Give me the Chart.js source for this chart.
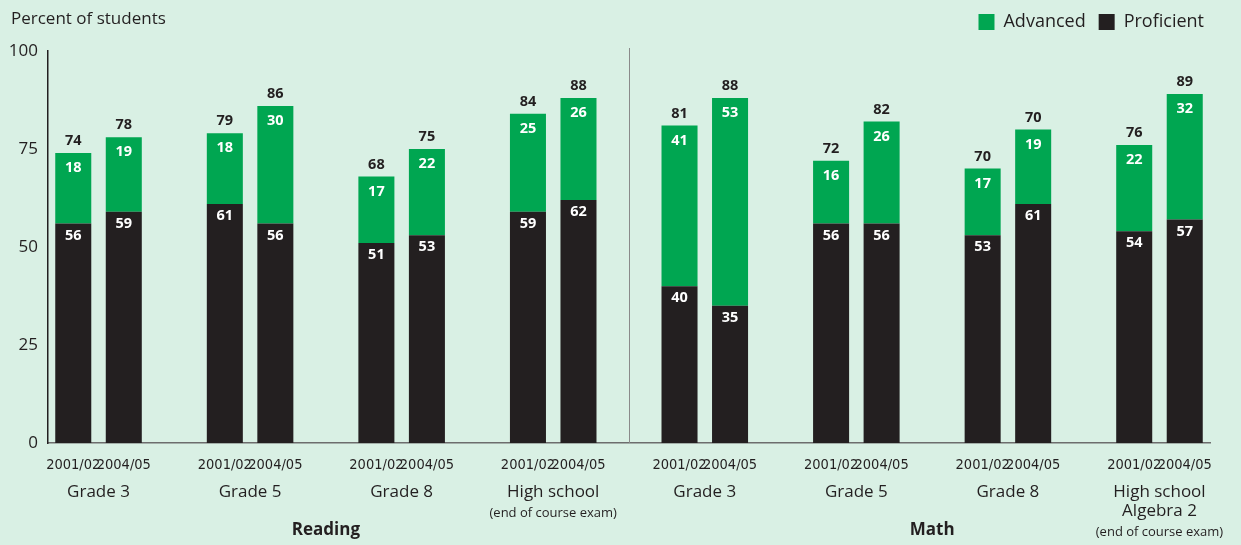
<!DOCTYPE html>
<html>
<head>
<meta charset="utf-8">
<script src="https://cdn.jsdelivr.net/npm/chart.js@4"></script>
<style>
  html, body { margin: 0; padding: 0; background: #d9f0e4; }
  #wrap { width: 1241px; height: 545px; }
</style>
</head>
<body>
<div id="wrap"><canvas id="myChart" width="1241" height="545"></canvas></div>
<script>
// values
var years = ['2001/02', '2004/05'];
var groupLines = [['Grade 3'], ['Grade 5'], ['Grade 8'], ['High school'],
                  ['Grade 3'], ['Grade 5'], ['Grade 8'], ['High school', 'Algebra 2']];
var groupNotes = ['', '', '', '(end of course exam)', '', '', '', '(end of course exam)'];
var subjects = ['Reading', 'Math'];
var proficient = [56, 59, 61, 56, 51, 53, 59, 62, 40, 35, 56, 56, 53, 61, 54, 57];
var advanced   = [18, 19, 18, 30, 17, 22, 25, 26, 41, 53, 16, 26, 17, 19, 22, 32];
var totals     = [74, 78, 79, 86, 68, 75, 84, 88, 81, 88, 72, 82, 70, 70, 76, 89];
var yTicks = [0, 25, 50, 75, 100];

var green = '#00a651';
var dark = '#231f20';
var font = "'Open Sans', sans-serif";

// slots: two bars per group then an empty slot
var labels = [], profData = [], advData = [], barIdx = [];
for (var g = 0; g < groupLines.length; g++) {
  for (var k = 0; k < 2; k++) {
    var n = g * 2 + k;
    labels.push(years[k]);
    profData.push(proficient[n]);
    advData.push(advanced[n]);
    barIdx.push(labels.length - 1);
  }
  if (g < groupLines.length - 1) {
    labels.push('');
    profData.push(null);
    advData.push(null);
  }
}

var extras = {
  id: 'extras',
  afterDraw: function(chart) {
    var ctx = chart.ctx, xs = chart.scales.x, area = chart.chartArea;
    ctx.save();
    // title
    ctx.fillStyle = dark;
    ctx.font = '17px ' + font;
    ctx.textAlign = 'left';
    ctx.textBaseline = 'middle';
    ctx.fillText('Percent of students', 11, 19);

    // separator between subjects
    var sep = xs.getPixelForValue(11);
    ctx.strokeStyle = '#8a8a8a';
    ctx.lineWidth = 1;
    ctx.beginPath();
    ctx.moveTo(Math.round(sep) + 0.5, area.top - 3);
    ctx.lineTo(Math.round(sep) + 0.5, area.bottom);
    ctx.stroke();

    // segment values and totals
    var pm = chart.getDatasetMeta(0), am = chart.getDatasetMeta(1);
    ctx.textAlign = 'center';
    ctx.font = 'bold 14.5px ' + font;
    for (var i = 0; i < barIdx.length; i++) {
      var s = barIdx[i];
      var pe = pm.data[s], ae = am.data[s];
      ctx.fillStyle = '#ffffff';
      ctx.fillText(String(proficient[i]), pe.x, pe.y + 12);
      ctx.fillText(String(advanced[i]), ae.x, ae.y + 15);
      ctx.fillStyle = dark;
      ctx.fillText(String(totals[i]), ae.x, ae.y - 12);
    }

    // group names
    var centers = [];
    for (var g = 0; g < groupLines.length; g++) {
      var cx = (xs.getPixelForValue(barIdx[g * 2]) + xs.getPixelForValue(barIdx[g * 2 + 1])) / 2;
      centers.push(cx);
      ctx.fillStyle = dark;
      ctx.font = '17px ' + font;
      var y = 492;
      for (var l = 0; l < groupLines[g].length; l++) {
        ctx.fillText(groupLines[g][l], cx, y);
        y += 19;
      }
      if (groupNotes[g]) {
        ctx.font = '13px ' + font;
        ctx.fillText(groupNotes[g], cx, y + 2);
      }
    }
    // subject names
    ctx.font = 'bold 17px ' + font;
    for (var sI = 0; sI < subjects.length; sI++) {
      var mid = (centers[sI * 4] + centers[sI * 4 + 3]) / 2;
      ctx.fillText(subjects[sI], mid, 530);
    }
    ctx.restore();
  }
};

var chartdata = {
  labels: labels,
  datasets: [
    { label: 'Proficient', data: profData, backgroundColor: dark, borderWidth: 0,
      barPercentage: 0.713, categoryPercentage: 1 },
    { label: 'Advanced', data: advData, backgroundColor: green, borderWidth: 0,
      barPercentage: 0.713, categoryPercentage: 1 }
  ]
};

var ctx = document.getElementById('myChart');
var barGraph = new Chart(ctx, {
  type: 'bar',
  data: chartdata,
  plugins: [extras],
  options: {
    responsive: false,
    animation: false,
    layout: { padding: { left: 0, right: 24, top: 0, bottom: 0 } },
    plugins: {
      tooltip: { enabled: false },
      legend: {
        position: 'top',
        align: 'end',
        reverse: true,
        labels: {
          boxWidth: 16, boxHeight: 16, padding: 13, color: dark,
          font: { family: font, size: 18 }
        }
      }
    },
    scales: {
      x: {
        stacked: true,
        grid: { display: false, drawTicks: false },
        border: { display: true, color: '#6d6d6d', width: 1.5 },
        ticks: {
          autoSkip: false, maxRotation: 0, padding: 14, color: dark,
          font: { family: "'Liberation Sans Narrow', 'DejaVu Sans Condensed', sans-serif", size: 14.5 }
        },
        afterFit: function(s) { s.height = 102; }
      },
      y: {
        stacked: true,
        min: 0, max: 100,
        afterBuildTicks: function(s) { s.ticks = yTicks.map(function(v) { return { value: v }; }); },
        grid: { display: false, drawTicks: false },
        border: { display: true, color: dark, width: 1.5 },
        ticks: { padding: 10, color: dark, font: { family: font, size: 17 } },
        afterFit: function(s) { s.width = 48; }
      },
      // empty spacers so the plot sits where the reference has it
      r: {
        position: 'right',
        grid: { display: false, drawTicks: false },
        border: { display: false },
        ticks: { display: false },
        afterFit: function(s) { s.width = 7; }
      },
      t: {
        position: 'top',
        grid: { display: false, drawTicks: false },
        border: { display: false },
        ticks: { display: false },
        afterFit: function(s) { s.height = 10; }
      }
    }
  }
});
</script>
</body>
</html>
